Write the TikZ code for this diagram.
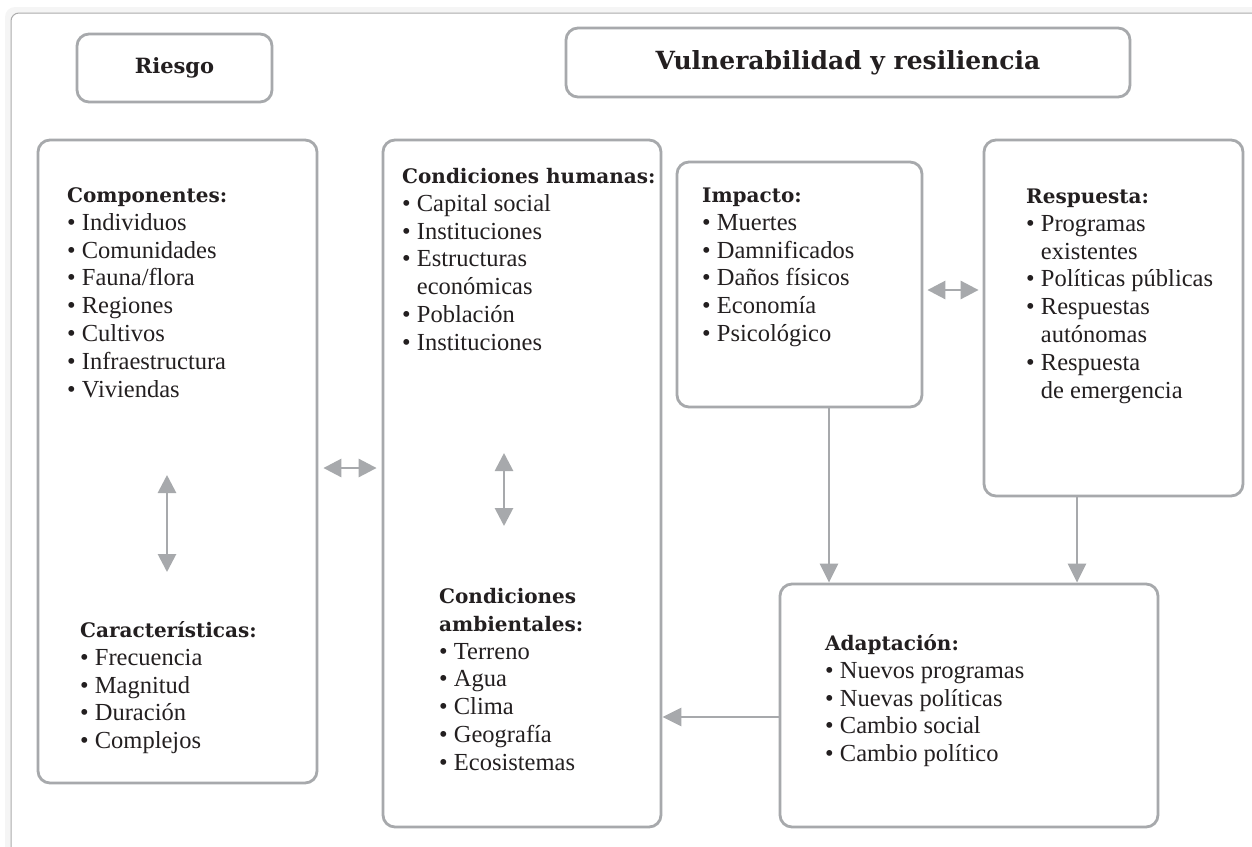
\documentclass[tikz,border=0pt]{standalone}
\usepackage{fontspec}
\setmainfont{Liberation Serif}
\newfontfamily\headfam{DejaVu Serif}
\usetikzlibrary{arrows.meta}

\definecolor{linegray}{HTML}{A7A9AC}
\definecolor{ink}{HTML}{231F20}
\definecolor{framegray}{HTML}{ABABAB}

\newcommand{\hd}[1]{{\headfam\bfseries\fontsize{20}{27.9}\selectfont\strut #1}}
\newcommand{\bodyfnt}{\fontsize{24.5}{27.9}\selectfont}
\newcommand{\bl}{\textbullet\ }
\newcommand{\ind}{\phantom{\textbullet}\ }

\tikzset{
	box/.style={draw=linegray,line width=2.8pt,rounded corners=12pt},
	title/.style={box,text=ink,font=\headfam\bfseries\fontsize{21}{26}\selectfont},
	txt/.style={anchor=north west,inner sep=0pt,align=left,font=\bodyfnt,text=ink},
	arr/.style={draw=linegray,line width=2.8pt,-{Triangle[length=19pt,width=18pt]}},
	dblarr/.style={draw=linegray,line width=2.8pt,
		{Triangle[length=18pt,width=18pt]}-{Triangle[length=18pt,width=18pt]}}
}

\begin{document}
\begin{tikzpicture}[x=1pt,y=-1pt]
	\useasboundingbox (0,0) rectangle (1252,846);
	% outer frame with a soft edge
	\fill[black!4,rounded corners=10pt] (5,860) -- (5,7) -- (1270,7) -- (1270,860) -- cycle;
	\fill[white,rounded corners=8pt] (11,860) -- (11,13) -- (1270,13) -- (1270,860) -- cycle;
	\draw[framegray,line width=1pt,rounded corners=8pt] (11,860) -- (11,13) -- (1270,13);

	% titles
	\node[title,minimum width=195pt,minimum height=68pt] (riesgo) at (174.5,68) {Riesgo};
	\node[title,font=\headfam\bfseries\fontsize{25}{30}\selectfont,minimum width=564pt,minimum height=69pt] (vuln)
		at (848,62.5) {Vulnerabilidad y resiliencia};

	% boxes
	\node[box,minimum width=279pt,minimum height=643pt] (comp) at (177.5,461.5) {};
	\node[box,minimum width=278pt,minimum height=687pt] (cond) at (522,483.5) {};
	\node[box,minimum width=245pt,minimum height=245pt] (impacto) at (799.5,284.5) {};
	\node[box,minimum width=259pt,minimum height=356pt] (resp) at (1113.5,318) {};
	\node[box,minimum width=378pt,minimum height=243pt] (adapt) at (969,705.5) {};

	% texts
	\node[txt] (comptxt) at (67,182.5) {\hd{Componentes:}\\ \bl Individuos\\ \bl Comunidades\\ \bl Fauna/flora\\
		\bl Regiones\\ \bl Cultivos\\ \bl Infraestructura\\ \bl Viviendas};
	\node[txt] (chartxt) at (80,617.5) {\hd{Características:}\\ \bl Frecuencia\\ \bl Magnitud\\ \bl Duración\\ \bl Complejos};
	\node[txt] (humtxt) at (402,163.5) {\hd{Condiciones humanas:}\\ \bl Capital social\\ \bl Instituciones\\ \bl Estructuras\\
		\ind económicas\\ \bl Población\\ \bl Instituciones};
	\node[txt] (ambtxt) at (439,583.5) {\hd{Condiciones}\\ \hd{ambientales:}\\ \bl Terreno\\ \bl Agua\\ \bl Clima\\
		\bl Geografía\\ \bl Ecosistemas};
	\node[txt] (imptxt) at (702,182.5) {\hd{Impacto:}\\ \bl Muertes\\ \bl Damnificados\\ \bl Daños físicos\\ \bl Economía\\ \bl Psicológico};
	\node[txt] (restxt) at (1026,183.5) {\hd{Respuesta:}\\ \bl Programas\\ \ind existentes\\ \bl Políticas públicas\\ \bl Respuestas\\
		\ind autónomas\\ \bl Respuesta\\ \ind de emergencia};
	\node[txt] (adatxt) at (825,630.5) {\hd{Adaptación:}\\ \bl Nuevos programas\\ \bl Nuevas políticas\\ \bl Cambio social\\ \bl Cambio político};

	% free ends of the inner arrows
	\coordinate (compA) at (167,475);
	\coordinate (compB) at (167,572);
	\coordinate (condA) at (504,453);
	\coordinate (condB) at (504,526);

	% connectors
	\draw[dblarr] (compA) -- (compB);
	\draw[dblarr] (condA) -- (condB);
	\draw[dblarr,shorten <=5pt,shorten >=5pt] ([yshift=-6.5pt]comp.east) -- ([yshift=-6.5pt]comp.east -| cond.west);
	\draw[dblarr,shorten <=4pt,shorten >=4pt] ([yshift=-5.5pt]impacto.east) -- ([yshift=-5.5pt]impacto.east -| resp.west);
	\draw[arr] ([xshift=29.5pt]impacto.south) -- ([xshift=29.5pt]impacto.south |- adapt.north);
	\draw[arr] ([xshift=-36.5pt]resp.south) -- ([xshift=-36.5pt]resp.south |- adapt.north);
	\draw[arr] ([yshift=-11.5pt]adapt.west) -- ([yshift=-11.5pt]adapt.west -| cond.east);
\end{tikzpicture}
\end{document}
